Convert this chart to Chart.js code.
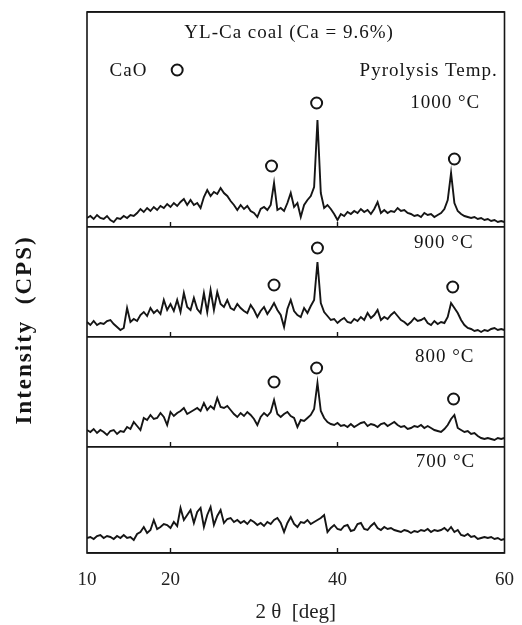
<!DOCTYPE html>
<html>
<head>
<meta charset="utf-8">
<script src="https://cdn.jsdelivr.net/npm/chart.js@4.4.0/dist/chart.umd.min.js"></script>
<style>
  html, body { margin: 0; padding: 0; background: #fff; }
  #wrap { width: 522px; height: 625px; }
</style>
</head>
<body>
<div id="wrap"><canvas id="xrdChart"></canvas></div>
<script>
// 2 theta (deg)
const twoTheta = [
  10.0, 10.4, 10.8, 11.2, 11.6, 12.0, 12.4, 12.8, 13.2, 13.6, 14.0, 14.4, 14.8, 15.2, 15.6, 16.0,
  16.4, 16.8, 17.2, 17.6, 18.0, 18.4, 18.8, 19.2, 19.6, 20.0, 20.4, 20.8, 21.2, 21.6, 22.0, 22.4,
  22.8, 23.2, 23.6, 24.0, 24.4, 24.8, 25.2, 25.6, 26.0, 26.4, 26.8, 27.2, 27.6, 28.0, 28.4, 28.8,
  29.2, 29.6, 30.0, 30.4, 30.8, 31.2, 31.6, 32.0, 32.4, 32.8, 33.2, 33.6, 34.0, 34.4, 34.8, 35.2,
  35.6, 36.0, 36.4, 36.8, 37.2, 37.6, 38.0, 38.4, 38.8, 39.2, 39.6, 40.0, 40.4, 40.8, 41.2, 41.6,
  42.0, 42.4, 42.8, 43.2, 43.6, 44.0, 44.4, 44.8, 45.2, 45.6, 46.0, 46.4, 46.8, 47.2, 47.6, 48.0,
  48.4, 48.8, 49.2, 49.6, 50.0, 50.4, 50.8, 51.2, 51.6, 52.0, 52.4, 52.8, 53.2, 53.6, 54.0, 54.4,
  54.8, 55.2, 55.6, 56.0, 56.4, 56.8, 57.2, 57.6, 58.0, 58.4, 58.8, 59.2, 59.6, 60.0
];

const cps1000 = [
  9, 11, 8, 12, 9, 8, 11, 7, 5, 9, 8, 11, 9, 12, 11, 14,
  18, 15, 19, 16, 20, 17, 21, 19, 23, 20, 24, 21, 25, 28, 22, 27,
  22, 24, 19, 30, 37, 31, 35, 33, 39, 34, 31, 26, 22, 17, 22, 18,
  21, 16, 14, 10, 18, 20, 17, 22, 44, 17, 19, 16, 24, 34, 20, 24,
  10, 22, 27, 31, 40, 107, 34, 19, 22, 18, 13, 7, 13, 11, 15, 13,
  16, 14, 18, 15, 17, 13, 18, 25, 14, 17, 14, 16, 15, 19, 16, 17,
  14, 13, 11, 12, 10, 14, 12, 13, 10, 12, 14, 18, 27, 54, 24, 16,
  13, 11, 10, 9, 10, 8, 9, 7, 8, 6, 7, 5, 6, 5
];
const cps900 = [
  15, 12, 16, 12, 14, 13, 16, 17, 13, 10, 7, 9, 29, 15, 18, 16,
  22, 25, 21, 29, 24, 27, 23, 37, 27, 33, 26, 37, 25, 44, 30, 27,
  39, 28, 24, 44, 25, 47, 27, 45, 33, 30, 37, 29, 27, 33, 29, 26,
  24, 32, 27, 20, 26, 30, 23, 28, 34, 27, 22, 10, 28, 37, 26, 22,
  20, 29, 24, 31, 37, 75, 34, 25, 21, 17, 18, 14, 17, 19, 15, 14,
  18, 16, 20, 17, 24, 19, 22, 27, 17, 20, 18, 22, 25, 21, 17, 15,
  12, 15, 19, 16, 17, 19, 14, 12, 16, 13, 15, 14, 20, 34, 29, 24,
  17, 12, 9, 8, 6, 7, 5, 7, 6, 8, 9, 7, 8, 7
];
const cps800 = [
  17, 15, 18, 14, 17, 15, 12, 16, 17, 13, 16, 15, 20, 18, 25, 21,
  17, 29, 27, 32, 28, 29, 34, 30, 22, 35, 31, 34, 36, 39, 33, 35,
  37, 39, 36, 44, 37, 41, 38, 49, 40, 39, 41, 37, 33, 30, 34, 31,
  35, 32, 28, 22, 30, 34, 31, 35, 47, 33, 30, 33, 35, 31, 29, 20,
  27, 26, 29, 32, 38, 64, 36, 29, 25, 23, 22, 24, 21, 22, 20, 23,
  20, 22, 24, 25, 21, 23, 22, 20, 23, 24, 21, 23, 25, 22, 20, 21,
  18, 19, 21, 20, 22, 19, 21, 19, 17, 16, 15, 18, 22, 28, 32, 19,
  17, 15, 16, 13, 14, 11, 9, 8, 9, 8, 7, 9, 8, 9
];
const cps700 = [
  15, 16, 14, 17, 18, 15, 17, 16, 14, 17, 15, 18, 15, 16, 13, 19,
  21, 26, 20, 23, 33, 24, 26, 29, 28, 25, 31, 27, 45, 33, 38, 43,
  30, 41, 45, 26, 38, 46, 28, 37, 43, 30, 34, 35, 31, 33, 30, 32,
  29, 33, 31, 28, 30, 27, 31, 29, 33, 35, 30, 21, 30, 36, 29, 26,
  31, 30, 33, 29, 31, 33, 35, 38, 21, 25, 28, 24, 23, 27, 28, 22,
  23, 29, 30, 24, 23, 27, 30, 25, 23, 26, 24, 25, 23, 22, 21, 23,
  22, 20, 22, 21, 23, 22, 24, 21, 23, 22, 23, 25, 22, 26, 21, 23,
  18, 17, 19, 16, 17, 14, 15, 16, 15, 16, 14, 15, 13, 14
];

// CaO peak markers [2theta, height]
const cao1000 = [[32.1, 61], [37.5, 124], [54.0, 68]];
const cao900 = [[32.4, 52], [37.6, 89], [53.8, 50]];
const cao800 = [[32.4, 65], [37.5, 79], [53.9, 48]];
const caoLegend = [[20.8, 157]];

const xTicks = [10, 20, 40, 60];
const minorTicks = [20, 40];

const serif = '"Liberation Serif", "Times New Roman", serif';

function trace(arr) {
  return twoTheta.map((t, i) => ({ x: t, y: arr[i] }));
}
function marks(arr) {
  return arr.map(p => ({ x: p[0], y: p[1] }));
}

function lineSet(label, arr, axis) {
  return {
    label: label, data: trace(arr), yAxisID: axis,
    borderColor: '#151515', borderWidth: 1.9, pointRadius: 0, tension: 0, fill: false
  };
}
function ringSet(label, arr, axis) {
  return {
    type: 'scatter', label: label, data: marks(arr), yAxisID: axis,
    pointStyle: 'circle', pointRadius: 5.5, borderWidth: 2,
    borderColor: '#151515', backgroundColor: '#fff', showLine: false
  };
}

const notes = [
  { text: 'YL-Ca coal (Ca = 9.6%)', x: 34.2, y: 194, axis: 'y1000', align: 'center' },
  { text: 'CaO', x: 12.7, y: 156, axis: 'y1000', align: 'left' },
  { text: 'Pyrolysis Temp.', x: 59.2, y: 156, axis: 'y1000', align: 'right' },
  { text: '1000 °C', x: 57.1, y: 124, axis: 'y1000', align: 'right' },
  { text: '900 °C', x: 56.3, y: 94, axis: 'y900', align: 'right' },
  { text: '800 °C', x: 56.4, y: 90, axis: 'y800', align: 'right' },
  { text: '700 °C', x: 56.5, y: 91, axis: 'y700', align: 'right' }
];

const panelAxes = ['y1000', 'y900', 'y800', 'y700'];

const framePlugin = {
  id: 'frame',
  afterDatasetsDraw(chart) {
    const ctx = chart.ctx;
    const a = chart.chartArea;
    const xs = chart.scales.x;
    ctx.save();
    ctx.strokeStyle = '#151515';
    ctx.lineWidth = 1.6;
    ctx.strokeRect(a.left, a.top, a.right - a.left, a.bottom - a.top);
    // small inward ticks on each panel bottom
    ctx.lineWidth = 1.4;
    panelAxes.forEach(id => {
      const s = chart.scales[id];
      minorTicks.forEach(v => {
        const px = xs.getPixelForValue(v);
        ctx.beginPath();
        ctx.moveTo(px, s.bottom);
        ctx.lineTo(px, s.bottom - 5);
        ctx.stroke();
      });
    });
    // text annotations
    ctx.fillStyle = '#151515';
    ctx.font = '19px ' + serif;
    ctx.letterSpacing = '1px';
    ctx.textBaseline = 'middle';
    notes.forEach(n => {
      ctx.textAlign = n.align;
      ctx.fillText(n.text, xs.getPixelForValue(n.x), chart.scales[n.axis].getPixelForValue(n.y));
    });
    // y axis title
    ctx.font = 'bold 23px ' + serif;
    ctx.letterSpacing = '2px';
    ctx.textAlign = 'center';
    ctx.translate(25, (chart.scales.y900.top + chart.scales.y800.bottom) / 2 - 7);
    ctx.rotate(-Math.PI / 2);
    ctx.fillText('Intensity  (CPS)', 0, 0);
    ctx.restore();
  }
};

function panelAxis(max, weight) {
  return {
    type: 'linear', position: 'left', stack: 'xrd', stackWeight: weight,
    min: 0, max: max,
    ticks: { display: false },
    border: { display: false },
    grid: { drawTicks: false, color: '#151515', lineWidth: 1.6 },
    afterBuildTicks: s => { s.ticks = [{ value: s.min }, { value: s.max }]; },
    afterFit: s => { s.width = 0; }
  };
}

new Chart(document.getElementById('xrdChart'), {
  type: 'line',
  data: {
    datasets: [
      lineSet('1000 °C', cps1000, 'y1000'),
      lineSet('900 °C', cps900, 'y900'),
      lineSet('800 °C', cps800, 'y800'),
      lineSet('700 °C', cps700, 'y700'),
      ringSet('CaO', caoLegend, 'y1000'),
      ringSet('CaO 1000', cao1000, 'y1000'),
      ringSet('CaO 900', cao900, 'y900'),
      ringSet('CaO 800', cao800, 'y800')
    ]
  },
  options: {
    responsive: true,
    maintainAspectRatio: false,
    animation: false,
    layout: { padding: { left: 87, right: 3, top: 12, bottom: 0 } },
    plugins: { legend: { display: false }, tooltip: { enabled: false } },
    scales: {
      x: {
        type: 'linear', min: 10, max: 60,
        grid: { display: false },
        border: { display: false },
        afterBuildTicks: s => { s.ticks = xTicks.map(v => ({ value: v })); },
        afterFit: s => { s.height = 72; },
        ticks: { color: '#222', font: { family: serif, size: 19 }, padding: 8, maxRotation: 0 },
        title: { display: true, text: '2 θ  [deg]', color: '#222', font: { family: serif, size: 21 }, padding: { top: 0, bottom: 0 } }
      },
      y700: panelAxis(106, 106),
      y800: panelAxis(110, 110),
      y900: panelAxis(110, 110),
      y1000: panelAxis(215, 215)
    }
  },
  plugins: [framePlugin]
});
</script>
</body>
</html>
